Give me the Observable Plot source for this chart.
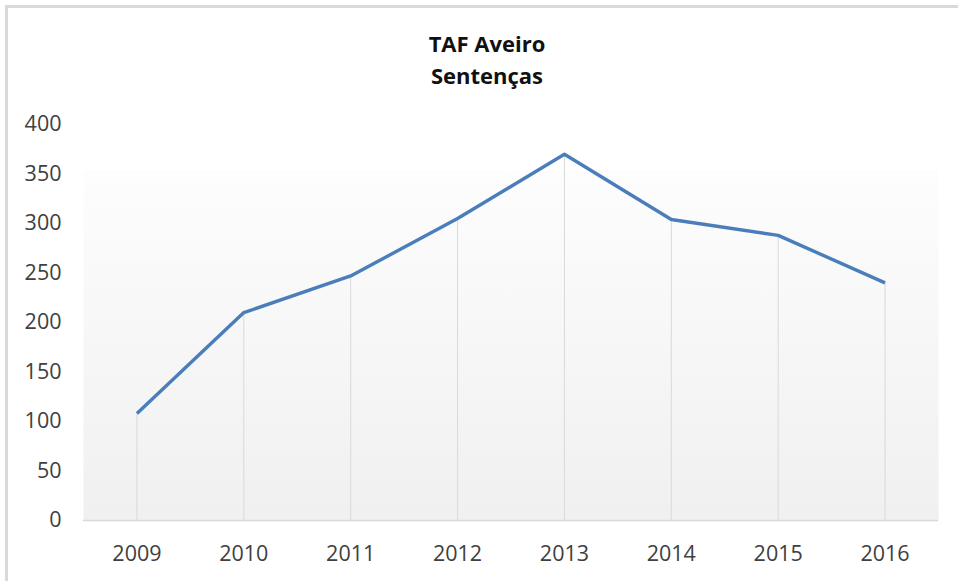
<!DOCTYPE html>
<html>
<head>
<meta charset="utf-8">
<script src="https://cdn.jsdelivr.net/npm/d3@7"></script>
<script src="https://cdn.jsdelivr.net/npm/@observablehq/plot@0.6"></script>
<style>
  html, body { margin: 0; padding: 0; background: #ffffff; }
  #wrap { position: relative; width: 958px; height: 581px; overflow: hidden; background: #fff; }
  #border { position: absolute; left: 5px; top: 5px; width: 2000px; height: 2000px;
            border-left: 3px solid #d9d9d9; border-top: 3px solid #d9d9d9; box-sizing: border-box; }
  #title { position: absolute; left: 16px; top: 26.5px; width: 942px; text-align: center;
           font-family: "Open Sans", sans-serif; font-weight: bold; font-size: 22px; line-height: 32px; color: #111; }
  #chart { position: absolute; left: 0; top: 100px; }
</style>
</head>
<body>
<div id="wrap">
  <div id="border"></div>
  <div id="title">TAF Aveiro<br>Sentenças</div>
  <div id="chart"></div>
</div>
<script>
const years = ["2009", "2010", "2011", "2012", "2013", "2014", "2015", "2016"];
const values = [108, 210, 247, 305, 370, 304, 288, 240];
const yTicks = [0, 50, 100, 150, 200, 250, 300, 350, 400];

const data = years.map((y, i) => ({year: y, value: values[i]}));

const plot = Plot.plot({
  width: 958,
  height: 481,
  marginTop: 24,
  marginBottom: 61,
  marginLeft: 83,
  marginRight: 20,
  style: {fontFamily: "'Open Sans', sans-serif", fontSize: "21.5px", color: "#404040", background: "transparent", overflow: "visible"},
  x: {type: "point", domain: years, padding: 0.5, round: false, label: null, tickSize: 0, tickPadding: 25},
  y: {domain: [0, 400], ticks: yTicks, label: null, tickSize: 0, tickPadding: 22},
  marks: [
    Plot.frame({fill: "url(#bgGrad)", stroke: null}),
    Plot.ruleX(data, {x: "year", y1: 0, y2: "value", stroke: "#d9d9d9", strokeWidth: 1}),
    Plot.ruleY([0], {stroke: "#d9d9d9", strokeWidth: 1.3}),
    Plot.line(data, {x: "year", y: "value", stroke: "#4a7ebb", strokeWidth: 3.4, strokeLinejoin: "round", strokeLinecap: "butt"})
  ]
});

const ns = "http://www.w3.org/2000/svg";
const defs = document.createElementNS(ns, "defs");
const grad = document.createElementNS(ns, "linearGradient");
grad.setAttribute("id", "bgGrad");
grad.setAttribute("x1", "0"); grad.setAttribute("y1", "0");
grad.setAttribute("x2", "0"); grad.setAttribute("y2", "1");
[["0", "#ffffff"], ["0.115", "#ffffff"], ["0.117", "#fdfdfd"], ["1", "#f0f0f0"]].forEach(([o, c]) => {
  const s = document.createElementNS(ns, "stop");
  s.setAttribute("offset", o);
  s.setAttribute("stop-color", c);
  grad.appendChild(s);
});
defs.appendChild(grad);
plot.insertBefore(defs, plot.firstChild);

document.getElementById("chart").appendChild(plot);
</script>
</body>
</html>
